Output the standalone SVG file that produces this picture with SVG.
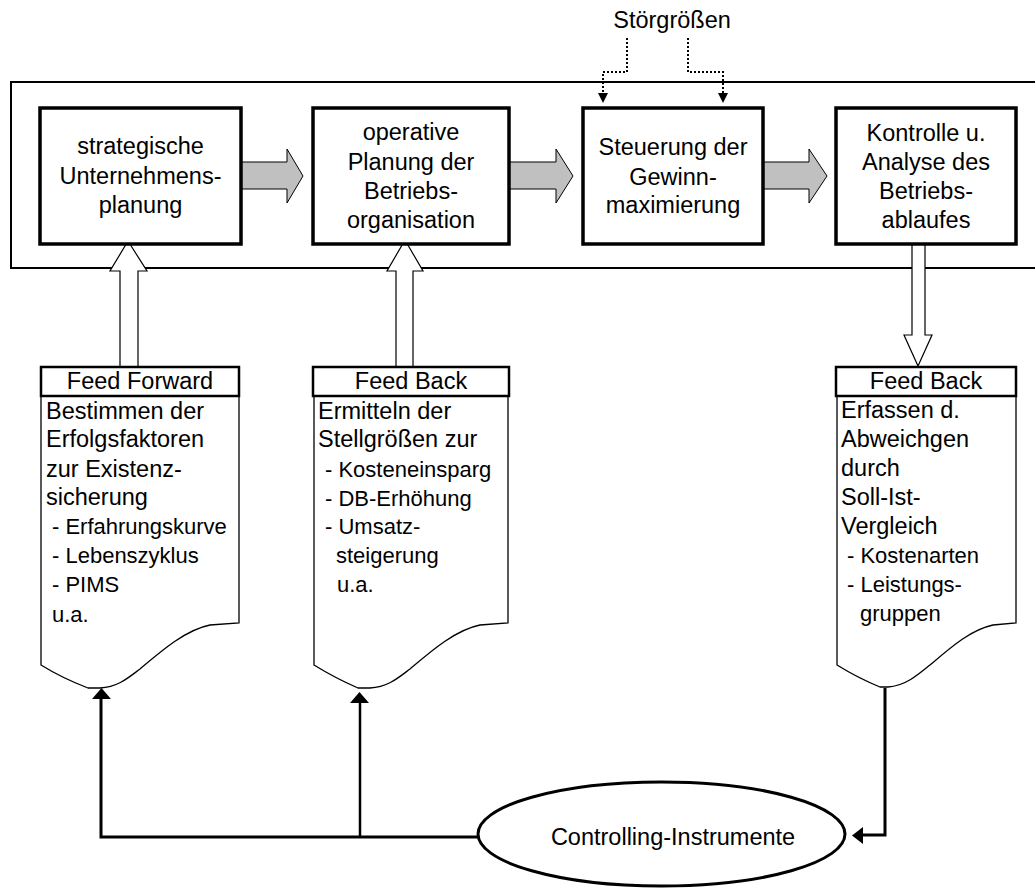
<svg xmlns="http://www.w3.org/2000/svg" width="1035" height="888" viewBox="0 0 1035 888">
<style>
text{font-family:"Liberation Sans",Arial,sans-serif;font-size:23.5px;fill:#000}
.c{text-anchor:middle}
.s{font-size:22px}
.box{fill:#fff;stroke:#000;stroke-width:3.5}
.hdr{fill:#fff;stroke:#000;stroke-width:2.5}
.doc{fill:#fff;stroke:#000;stroke-width:1.3}
.gray{fill:#c0c0c0;stroke:#000;stroke-width:1}
.hollow{fill:#fff;stroke:#000;stroke-width:1.2}
.dot{fill:none;stroke:#000;stroke-width:2;stroke-dasharray:2 2}
.ln{fill:none;stroke:#000;stroke-width:3}
</style>
<rect x="11" y="82" width="1040" height="186" fill="none" stroke="#000" stroke-width="2"/>
<text class="c" x="672" y="28">Störgrößen</text>
<g id="connectors">
<polyline class="dot" points="627,38 627,72 603,72 603,93"/>
<polyline class="dot" points="688,38 688,72 723,72 723,93"/>
<path d="M598,93 L608,93 L603,103 Z"/>
<path d="M718,93 L728,93 L723,103 Z"/>
<polygon class="gray" points="238,162 287,162 287,149 303,176 287,203 287,189 238,189"/>
<polygon class="gray" points="509,162 556,162 556,149 573,176 556,203 556,189 509,189"/>
<polygon class="gray" points="763,162 809,162 809,149 827,176 809,203 809,189 763,189"/>
<polygon class="hollow" points="128,241 147,271 138,271 138,367 120,367 120,271 110,271"/>
<polygon class="hollow" points="405,240 423,271 413,271 413,367 396,367 396,271 387,271"/>
<polygon class="hollow" points="912,244 925,244 925,335 932,335 918,366 904,335 912,335"/>
<polyline class="ln" points="478,837 101,837 101,698"/>
<path d="M92,699 L111,699 L101.5,688 Z"/>
<line x1="360" y1="837" x2="360" y2="702" stroke="#000" stroke-width="2.5"/>
<path d="M350,703 L369,703 L359.5,692 Z"/>
<polyline class="ln" points="885,688 885,835 862,835"/>
<path d="M863,827 L863,844 L852,835.5 Z"/>
</g>
<g id="n1">
<rect class="box" x="40" y="108" width="201" height="136"/>
<text class="c" x="140.5" y="154">strategische</text>
<text class="c" x="140.5" y="184">Unternehmens-</text>
<text class="c" x="140.5" y="213">planung</text>
</g>
<g id="n2">
<rect class="box" x="313" y="108" width="196" height="136"/>
<text class="c" x="411" y="140">operative</text>
<text class="c" x="411" y="170">Planung der</text>
<text class="c" x="411" y="199">Betriebs-</text>
<text class="c" x="411" y="228">organisation</text>
</g>
<g id="n3">
<rect class="box" x="583" y="108" width="180" height="136"/>
<text class="c" x="673" y="155">Steuerung der</text>
<text class="c" x="673" y="185">Gewinn-</text>
<text class="c" x="673" y="213">maximierung</text>
</g>
<g id="n4">
<rect class="box" x="836" y="108" width="180" height="136"/>
<text class="c" x="926" y="141">Kontrolle u.</text>
<text class="c" x="926" y="170">Analyse des</text>
<text class="c" x="926" y="199">Betriebs-</text>
<text class="c" x="926" y="228">ablaufes</text>
</g>
<g id="d1">
<path class="doc" d="M41,396 V665 Q62,678 88,688 H100 C118,687 128,678 140,669 C160,652 185,630 210,625 L239,623 V396 Z"/>
<rect class="hdr" x="41" y="367" width="198" height="29"/>
<text class="c" x="140" y="389">Feed Forward</text>
<text x="46" y="419">Bestimmen der</text>
<text x="46" y="447">Erfolgsfaktoren</text>
<text x="46" y="477">zur Existenz-</text>
<text x="46" y="505">sicherung</text>
<text class="s" x="52" y="534">- Erfahrungskurve</text>
<text class="s" x="52" y="563">- Lebenszyklus</text>
<text class="s" x="52" y="592">- PIMS</text>
<text class="s" x="52" y="622">u.a.</text>
</g>
<g id="d2">
<path class="doc" d="M314,396 V665 Q335,678 358,688 H370 C388,687 398,678 410,669 C430,652 455,630 480,625 L508,623 V396 Z"/>
<rect class="hdr" x="313" y="367" width="196" height="29"/>
<text class="c" x="411" y="389">Feed Back</text>
<text x="318" y="419">Ermitteln der</text>
<text x="318" y="447">Stellgrößen zur</text>
<text class="s" x="325" y="477">- Kosteneinsparg</text>
<text class="s" x="325" y="506">- DB-Erhöhung</text>
<text class="s" x="325" y="534">- Umsatz-</text>
<text class="s" x="336" y="563">steigerung</text>
<text class="s" x="337" y="592">u.a.</text>
</g>
<g id="d3">
<path class="doc" d="M837,396 V665 Q858,678 880,687 H888 C905,686 918,675 930,665 C950,648 970,630 993,625 L1016,623 V396 Z"/>
<rect class="hdr" x="836" y="367" width="180" height="29"/>
<text class="c" x="926" y="389">Feed Back</text>
<text x="841" y="418">Erfassen d.</text>
<text x="841" y="447">Abweichgen</text>
<text x="841" y="476">durch</text>
<text x="841" y="505">Soll-Ist-</text>
<text x="841" y="534">Vergleich</text>
<text class="s" x="847" y="563">- Kostenarten</text>
<text class="s" x="847" y="592">- Leistungs-</text>
<text class="s" x="860" y="621">gruppen</text>
</g>
<g id="e1">
<ellipse cx="661.5" cy="834" rx="183.5" ry="52" fill="#fff" stroke="#000" stroke-width="3"/>
<text class="c" x="673" y="845">Controlling-Instrumente</text>
</g>
</svg>
